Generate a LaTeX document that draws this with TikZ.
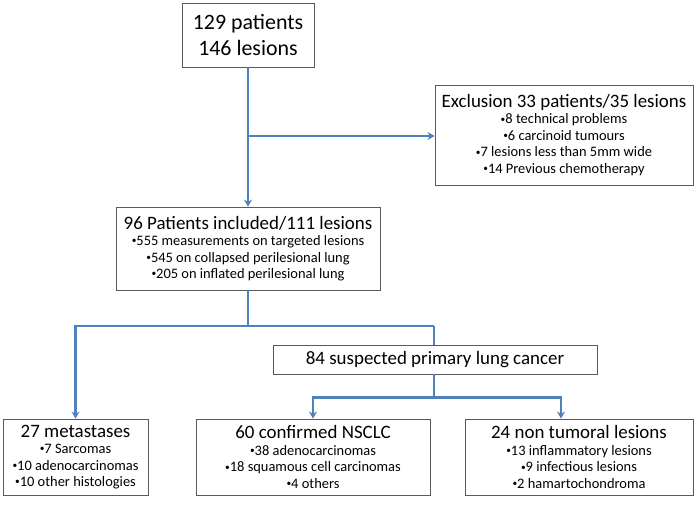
\documentclass[tikz,border=0pt]{standalone}
\usepackage{fontspec}
\setmainfont{Carlito}
\usetikzlibrary{arrows.meta}

\definecolor{linkblue}{RGB}{79,129,189}
\definecolor{boxgray}{RGB}{90,90,90}

\newcommand{\headsize}{\fontsize{19}{21}\selectfont}
\newcommand{\itemsize}{\fontsize{14.5}{16.5}\selectfont}
\newcommand{\bul}{\raisebox{0.12em}{\scalebox{0.65}{•}}}

\begin{document}
\begin{tikzpicture}[x=1bp,y=-1bp,
 box/.style={draw=boxgray,line width=0.8bp,align=center,inner sep=2bp,
  font=\itemsize},
 link/.style={draw=linkblue,line width=2.2bp},
 arrow/.style={link,-{Stealth[length=7bp,width=8bp]}}]

\useasboundingbox (0,0) rectangle (697,506);

% boxes
\node [box,minimum width=132bp,minimum height=64bp,font=\fontsize{22}{27}\selectfont]
 (top) at (248,35) {129 patients\\146 lesions};

\node [box,minimum width=258bp,minimum height=100bp] (excl) at (564,135)
 {{\headsize Exclusion 33 patients/35 lesions}\\
 \bul8 technical problems\\\bul6 carcinoid tumours\\
 \bul7 lesions less than 5mm wide\\\bul14 Previous chemotherapy};

\node [box,minimum width=264bp,minimum height=83bp] (incl) at (248,248.5)
 {{\headsize 96 Patients included/111 lesions}\\
 \bul555 measurements on targeted lesions\\
 \bul545 on collapsed perilesional lung\\
 \bul205 on inflated perilesional lung};

\node [box,minimum width=324bp,minimum height=29bp,font=\headsize]
 (susp) at (435,359.5) {84 suspected primary lung cancer};

\node [box,minimum width=145bp,minimum height=76bp] (meta) at (75.5,457)
 {{\headsize 27 metastases}\\\bul7 Sarcomas\\\bul10 adenocarcinomas\\\bul10 other histologies};

\node [box,minimum width=234bp,minimum height=76bp] (nsclc) at (313,457)
 {{\headsize 60 confirmed NSCLC}\\\bul38 adenocarcinomas\\
 \bul18 squamous cell carcinomas\\\bul4 others};

\node [box,minimum width=228bp,minimum height=76bp] (nontum) at (579,457)
 {{\headsize 24 non tumoral lesions}\\\bul13 inflammatory lesions\\
 \bul9 infectious lesions\\\bul2 hamartochondroma};

% connectors
\coordinate (excljoin) at (248,136);
\coordinate (split) at (248,326);
\coordinate (metajoin) at (75.5,326);
\coordinate (suspjoin) at (434,326);
\coordinate (fork) at (434,397.5);
\coordinate (nsclcjoin) at (313,397.5);
\coordinate (nontumjoin) at (561,397.5);

\draw [arrow] (top.south) -- (incl.north);
\draw [arrow] (excljoin) -- (excljoin -| excl.west);
\draw [link] (incl.south) -- (split);
\draw [arrow] (suspjoin) -- (metajoin) -- (meta.north);
\draw [link] (suspjoin) -- (suspjoin |- susp.north);
\draw [link] (suspjoin |- susp.south) -- (fork);
\draw [arrow] (fork) -- (nsclcjoin) -- (nsclcjoin |- nsclc.north);
\draw [arrow] (fork) -- (nontumjoin) -- (nontumjoin |- nontum.north);

\end{tikzpicture}
\end{document}
